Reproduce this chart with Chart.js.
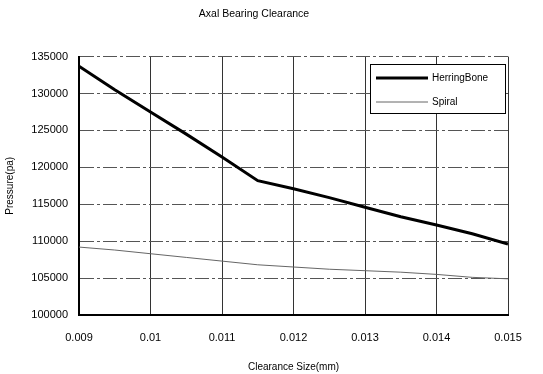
<!DOCTYPE html>
<html>
<head>
<meta charset="utf-8">
<script src="https://cdn.jsdelivr.net/npm/chart.js@4"></script>
<style>
    html, body { margin: 0; padding: 0; background: #fff; }
    #wrap { width: 543px; height: 374px; position: relative; }
</style>
</head>
<body>
<div id="wrap"><canvas id="chart"></canvas></div>
<script>
"use strict"

// clearance size (mm)
const clearance = [0.009, 0.0095, 0.01, 0.0105, 0.011, 0.0115, 0.012, 0.0125, 0.013, 0.0135, 0.014, 0.0145, 0.015];
// pressure (pa)
const herringBone = [133700, 130500, 127500, 124500, 121400, 118200, 117100, 115900, 114600, 113300, 112200, 111000, 109600];
const spiral = [109200, 108800, 108300, 107800, 107300, 106800, 106500, 106200, 106000, 105800, 105500, 105100, 104900];
const seriesNames = ["HerringBone", "Spiral"];

const FONT = "'Liberation Sans', Arial, sans-serif";

// legend drawn inside the plot, top right
const insideLegend = {
    id: 'insideLegend',
    afterDraw(chart) {
        const ctx = chart.ctx;
        const x = 370, y = 64, w = 135, h = 49;
        ctx.save();
        ctx.fillStyle = '#fff';
        ctx.fillRect(x, y, w, h);
        ctx.strokeStyle = '#000';
        ctx.lineWidth = 1;
        ctx.strokeRect(x + 0.5, y + 0.5, w, h);
        ctx.font = '10px ' + FONT;
        ctx.textBaseline = 'middle';
        chart.data.datasets.forEach((ds, i) => {
            const ly = y + 14 + i * 24;
            ctx.strokeStyle = ds.borderColor;
            ctx.lineWidth = ds.borderWidth;
            ctx.beginPath();
            ctx.moveTo(x + 6, ly);
            ctx.lineTo(x + 58, ly);
            ctx.stroke();
            ctx.fillStyle = '#000';
            ctx.fillText(ds.label, x + 62, ly);
        });
        ctx.restore();
    }
};

new Chart(document.getElementById('chart'), {
    type: 'line',
    data: {
        labels: clearance,
        datasets: [
            {
                label: seriesNames[0],
                data: clearance.map((c, i) => ({ x: c, y: herringBone[i] })),
                borderColor: '#000',
                borderWidth: 3,
                pointRadius: 0,
                tension: 0
            },
            {
                label: seriesNames[1],
                data: clearance.map((c, i) => ({ x: c, y: spiral[i] })),
                borderColor: '#666',
                borderWidth: 1,
                pointRadius: 0,
                tension: 0
            }
        ]
    },
    options: {
        responsive: true,
        maintainAspectRatio: false,
        animation: false,
        layout: { padding: { left: 0, right: 35, top: 0, bottom: 0 } },
        plugins: {
            legend: { display: false },
            tooltip: { enabled: false },
            title: {
                display: true,
                text: 'Axal Bearing Clearance',
                color: '#000',
                font: { family: FONT, size: 10.5, weight: 'normal' },
                padding: { top: 8, bottom: 36 }
            }
        },
        scales: {
            x: {
                type: 'linear',
                min: 0.009,
                max: 0.015,
                afterFit(scale) { scale.height = 59; },
                ticks: {
                    stepSize: 0.001,
                    color: '#000',
                    padding: 16,
                    maxRotation: 0,
                    font: { family: FONT, size: 11 },
                    callback: v => String(Number(v.toFixed(3)))
                },
                grid: { color: '#333', lineWidth: 1, drawTicks: false },
                border: { color: '#000', width: 2 },
                title: {
                    display: true,
                    text: 'Clearance Size(mm)',
                    color: '#000',
                    font: { family: FONT, size: 10 },
                    padding: { top: 0, bottom: 1 }
                }
            },
            y: {
                min: 100000,
                max: 135000,
                afterFit(scale) { scale.width = 79; },
                ticks: {
                    stepSize: 5000,
                    color: '#000',
                    padding: 11,
                    font: { family: FONT, size: 11 },
                    callback: v => String(v)
                },
                grid: { color: '#555', lineWidth: 1, drawTicks: false },
                border: { color: '#000', width: 2, dash: [14, 3, 3, 3] },
                title: {
                    display: true,
                    text: 'Pressure(pa)',
                    color: '#000',
                    font: { family: FONT, size: 10 },
                    padding: { top: 4, bottom: 0 }
                }
            }
        }
    },
    plugins: [insideLegend]
});
</script>
</body>
</html>
